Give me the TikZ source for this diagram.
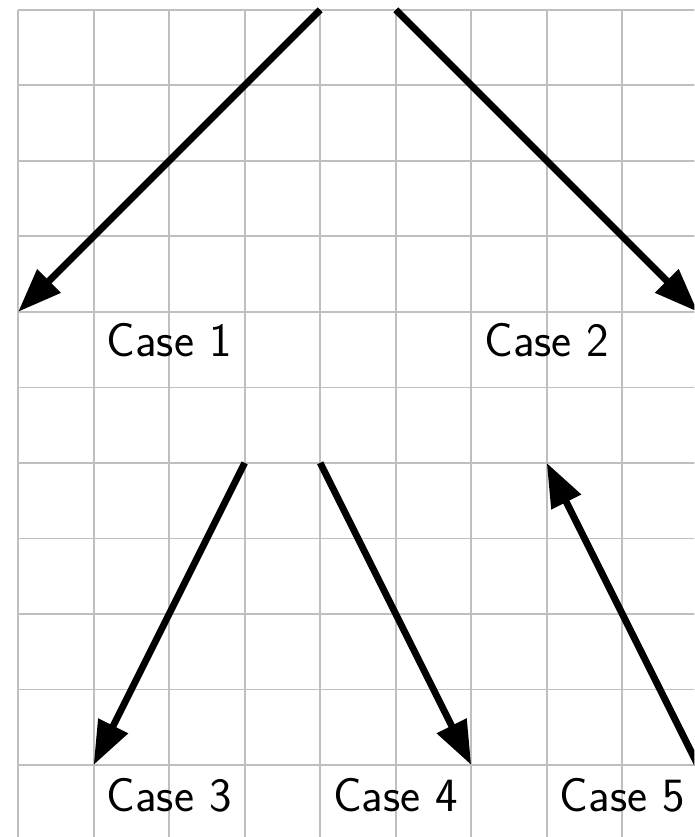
\documentclass[tikz,border=0pt]{standalone}
\usetikzlibrary{arrows.meta}

\begin{document}
\begin{tikzpicture}[
        helpgrid/.style={draw=gray!50, line width=0.65pt},
        casearrow/.style={-{Triangle[length=5.8mm, width=4.2mm]}, line width=2.6pt},
        caselabel/.style={font=\sffamily\fontsize{18}{22}\selectfont},
    ]
        \path[use as bounding box, clip] (-0.24,-0.954) rectangle (8.954,10.13);
        \draw[helpgrid] (0,-1.5) grid (9.5,10);

        % Ends
        \coordinate (top1) at (4,10);
        \coordinate (top2) at (5,10);
        \coordinate (tip1) at (0,6);
        \coordinate (tip2) at (9,6);
        \coordinate (mid3) at (3,4);
        \coordinate (mid4) at (4,4);
        \coordinate (tip3) at (1,0);
        \coordinate (tip4) at (6,0);
        \coordinate (foot5) at (9,0);
        \coordinate (tip5) at (7,4);

        % Cases
        \node[caselabel] (case1) at (2,5.62) {Case 1};
        \node[caselabel] (case2) at (7,5.62) {Case 2};
        \node[caselabel] (case3) at (2,-0.4) {Case 3};
        \node[caselabel] (case4) at (5,-0.4) {Case 4};
        \node[caselabel] (case5) at (8,-0.4) {Case 5};

        % Arrows
        \draw[casearrow] (top1) -- (tip1);
        \draw[casearrow] (top2) -- (tip2);
        \draw[casearrow] (mid3) -- (tip3);
        \draw[casearrow] (mid4) -- (tip4);
        \draw[casearrow] (foot5) -- (tip5);
    \end{tikzpicture}
\end{document}
